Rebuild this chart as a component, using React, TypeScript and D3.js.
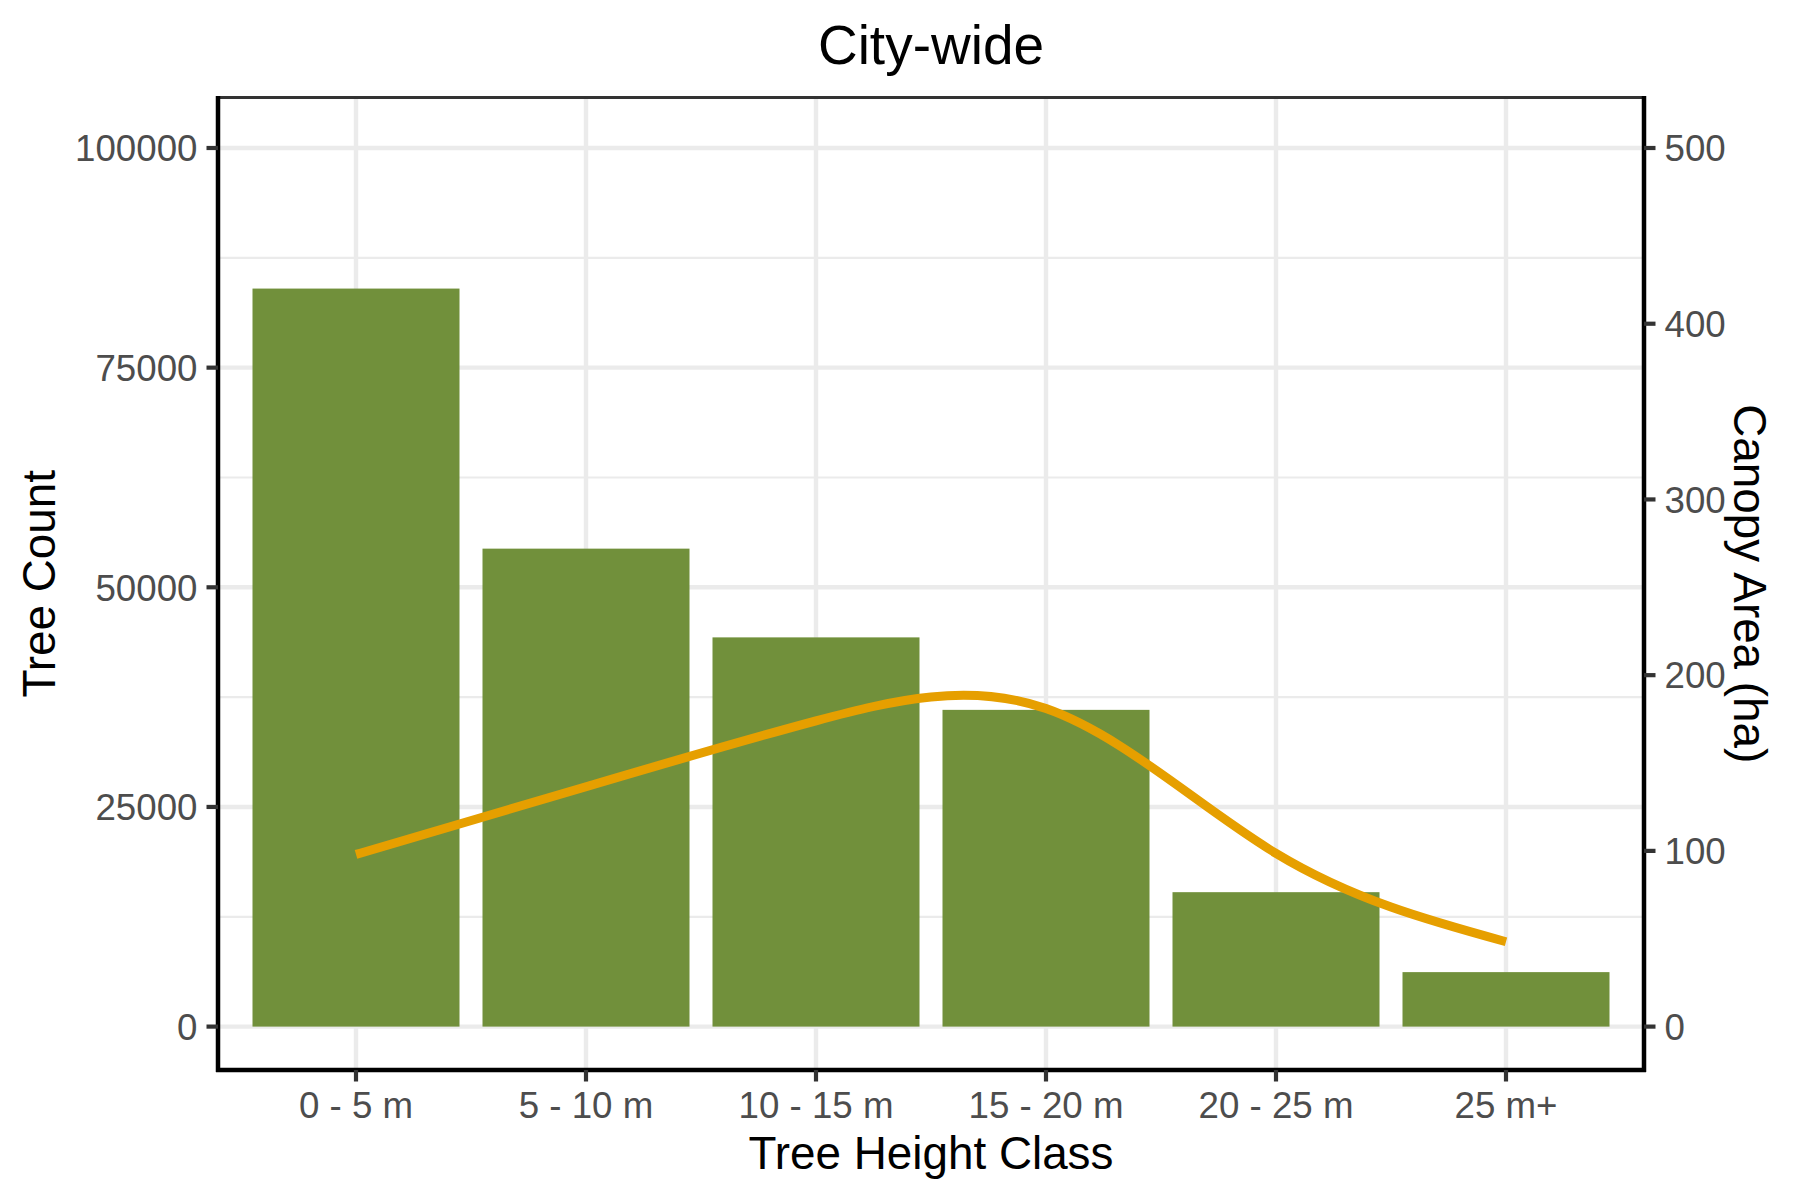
import React from "react";
import * as d3 from "d3";

const categories = ["0 - 5 m", "5 - 10 m", "10 - 15 m", "15 - 20 m", "20 - 25 m", "25 m+"];
const treeCount = [84000, 54400, 44300, 36050, 15300, 6200];
const canopyArea = [98, 136.5, 174, 181, 98.6, 48.3];
const leftTicks = [0, 25000, 50000, 75000, 100000];
const leftMinor = [12500, 37500, 62500, 87500];
const rightTicks = [0, 100, 200, 300, 400, 500];

const W = 1800;
const H = 1200;
const panel = { left: 218, right: 1644, top: 97.5, bottom: 1070 };
const FONT = "'Liberation Sans', Arial, Helvetica, sans-serif";
const BAR = "#71903B";
const LINE = "#E69F00";
const GRID = "#EBEBEB";
const TEXT_GRAY = "#4D4D4D";

export default function App() {
  const x = d3.scalePoint<string>().domain(categories).range([panel.left, panel.right]).padding(0.6);
  const step = x.step();
  const barW = step * 0.9;
  const yL = d3.scaleLinear().domain([0, 100000]).range([1026.6, 148]);
  const yR = d3.scaleLinear().domain([0, 500]).range([1026.6, 148]);

  const lineGen = d3
    .line<number>()
    .x((_, i) => x(categories[i]) as number)
    .y((d) => yR(d))
    .curve(d3.curveNatural);

  const tickLen = 11.5;
  const midX = (panel.left + panel.right) / 2;
  const midY = (panel.top + panel.bottom) / 2;

  return (
    <svg width={W} height={H} style={{ position: "absolute", left: 0, top: 0, background: "#fff" }} fontFamily={FONT}>
      <rect x={0} y={0} width={W} height={H} fill="#fff" />
      <defs>
        <clipPath id="pc">
          <rect x={panel.left} y={panel.top} width={panel.right - panel.left} height={panel.bottom - panel.top} />
        </clipPath>
      </defs>
      <g clipPath="url(#pc)">
        {leftMinor.map((v) => (
          <line key={"mi" + v} x1={panel.left} x2={panel.right} y1={yL(v)} y2={yL(v)} stroke={GRID} strokeWidth={2.2} />
        ))}
        {leftTicks.map((v) => (
          <line key={"ma" + v} x1={panel.left} x2={panel.right} y1={yL(v)} y2={yL(v)} stroke={GRID} strokeWidth={4.4} />
        ))}
        {categories.map((c) => (
          <line key={"vx" + c} x1={x(c)} x2={x(c)} y1={panel.top} y2={panel.bottom} stroke={GRID} strokeWidth={4.4} />
        ))}
        {treeCount.map((v, i) => (
          <rect
            key={"b" + i}
            x={(x(categories[i]) as number) - barW / 2}
            y={yL(v)}
            width={barW}
            height={yL(0) - yL(v)}
            fill={BAR}
          />
        ))}
        <path d={lineGen(canopyArea) || ""} fill="none" stroke={LINE} strokeWidth={8.9} strokeLinecap="butt" strokeLinejoin="round" />
      </g>
      {/* panel border */}
      <line x1={panel.left} x2={panel.right} y1={panel.top} y2={panel.top} stroke="#333333" strokeWidth={3} />
      <line x1={panel.left} x2={panel.left} y1={panel.top - 1.5} y2={panel.bottom + 2} stroke="#000" strokeWidth={4.5} />
      <line x1={panel.right} x2={panel.right} y1={panel.top - 1.5} y2={panel.bottom + 2} stroke="#000" strokeWidth={4.5} />
      <line x1={panel.left - 2} x2={panel.right + 2} y1={panel.bottom} y2={panel.bottom} stroke="#000" strokeWidth={4.5} />

      {/* left axis */}
      {leftTicks.map((v) => (
        <g key={"lt" + v}>
          <line x1={panel.left - tickLen} x2={panel.left} y1={yL(v)} y2={yL(v)} stroke="#333333" strokeWidth={4.2} />
          <text x={panel.left - tickLen - 9} y={yL(v)} dy="0.36em" textAnchor="end" fontSize={36.7} fill={TEXT_GRAY}>
            {v}
          </text>
        </g>
      ))}
      {/* right axis */}
      {rightTicks.map((v) => (
        <g key={"rt" + v}>
          <line x1={panel.right} x2={panel.right + tickLen} y1={yR(v)} y2={yR(v)} stroke="#333333" strokeWidth={4.2} />
          <text x={panel.right + tickLen + 9} y={yR(v)} dy="0.36em" textAnchor="start" fontSize={36.7} fill={TEXT_GRAY}>
            {v}
          </text>
        </g>
      ))}
      {/* bottom axis */}
      {categories.map((c) => (
        <g key={"bt" + c}>
          <line x1={x(c)} x2={x(c)} y1={panel.bottom} y2={panel.bottom + tickLen} stroke="#333333" strokeWidth={4.2} />
          <text x={x(c)} y={1118} textAnchor="middle" fontSize={36.7} fill={TEXT_GRAY}>
            {c}
          </text>
        </g>
      ))}

      {/* titles */}
      <text x={midX} y={63.5} textAnchor="middle" fontSize={55} fill="#000">
        City-wide
      </text>
      <text x={midX} y={1168.5} textAnchor="middle" fontSize={45.8} fill="#000">
        Tree Height Class
      </text>
      <text transform={`translate(55,${midY}) rotate(-90)`} textAnchor="middle" fontSize={45.8} fill="#000">
        Tree Count
      </text>
      <text transform={`translate(1734,${midY}) rotate(90)`} textAnchor="middle" fontSize={45.8} fill="#000">
        Canopy Area (ha)
      </text>
    </svg>
  );
}
